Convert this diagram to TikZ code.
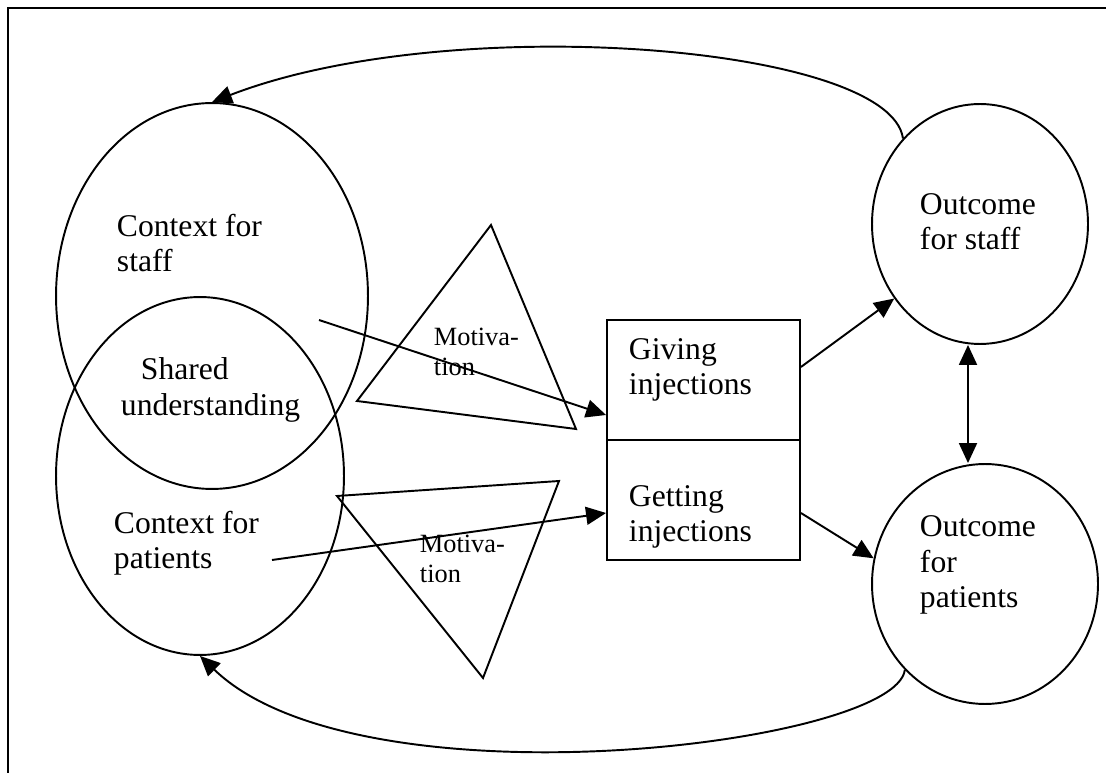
\documentclass[tikz,border=0pt]{standalone}
\usepackage{fontspec}
\setmainfont{Liberation Serif}
\usetikzlibrary{arrows.meta,calc,shapes.geometric}
\tikzset{
  oval/.style={draw, ellipse, inner sep=0pt},
  halfbox/.style={draw, rectangle, minimum width=3.86cm, minimum height=2.4cm, inner sep=0pt},
  bigtxt/.style={anchor=west, align=left, inner sep=0pt, font=\fontsize{18}{20}\selectfont},
  smalltxt/.style={anchor=west, align=left, inner sep=0pt, font=\fontsize{15}{17.5}\selectfont},
  link/.style={-{Triangle[length=0.4cm,width=0.36cm]}},
  twolink/.style={{Triangle[length=0.4cm,width=0.36cm]}-{Triangle[length=0.4cm,width=0.36cm]}}
}

\begin{document}
\begin{tikzpicture}[x=0.02cm, y=-0.02cm, line width=1.1pt]
	%%%%% START %%%%%
	\useasboundingbox (0,0) rectangle (1106,773);
	\draw[line width=1.3pt] (8,773) -- (8,8) -- (1106,8);
	
	% contexts
	\node[oval, minimum width=6.24cm, minimum height=7.72cm] (cstaff) at (212,296) {};
	\node[oval, minimum width=5.76cm, minimum height=7.16cm] (cpat) at (200,476) {};
	\node[bigtxt] (cstafftxt) at (116,243) {Context for\\staff};
	\node[bigtxt] (sharedtxt) at (120,390) {\hspace*{0.4cm}Shared\\understanding};
	\node[bigtxt] (cpattxt) at (113,543) {Context for\\patients};
	
	% motivation
	\draw (491,225) -- (576,429) -- (357,401) -- cycle;
	\draw (337,496) -- (559,481) -- (483,678) -- cycle;
	\node[smalltxt] (mot1) at (433,352) {Motiva-\\tion};
	\node[smalltxt] (mot2) at (419,559) {Motiva-\\tion};
	
	% injections
	\node[halfbox] (give) at (703.5,380) {};
	\node[halfbox] (get) at (703.5,500) {};
	\node[bigtxt] (givetxt) at (628,370) {Giving\\injections};
	\node[bigtxt] (gettxt) at (628,517) {Getting\\injections};
	
	% outcomes
	\node[oval, minimum width=4.32cm, minimum height=4.8cm] (ostaff) at (980,224) {};
	\node[oval, minimum width=4.52cm, minimum height=4.8cm] (opat) at (985,584) {};
	\node[bigtxt] (ostafftxt) at (919,222) {Outcome\\for staff};
	\node[bigtxt] (opattxt) at (919,565) {Outcome\\for\\patients};
	
	\coordinate (m1) at (319,320);
	\coordinate (m2) at (272,560);
	\draw[link] (m1) -- ($(give.west)+(0,35)$);
	\draw[link] (m2) -- ($(get.west)+(0,13)$);
	\draw[link] ($(give.east)+(0,-13)$) -- (ostaff.221);
	\draw[link] ($(get.east)+(0,13)$) -- (opat.167);
	\draw[twolink] ($(ostaff.south)+(-12,0)$) -- ($(opat.north)+(-17,0)$);
	
	% feedback
	\draw[link] (ostaff.132) .. controls (890,45) and (450,10) .. (cstaff.north);
	\draw[link] (opat.227) .. controls (895,745) and (360,810) .. (cpat.south);
	%%%%% END %%%%%
\end{tikzpicture}
\end{document}
